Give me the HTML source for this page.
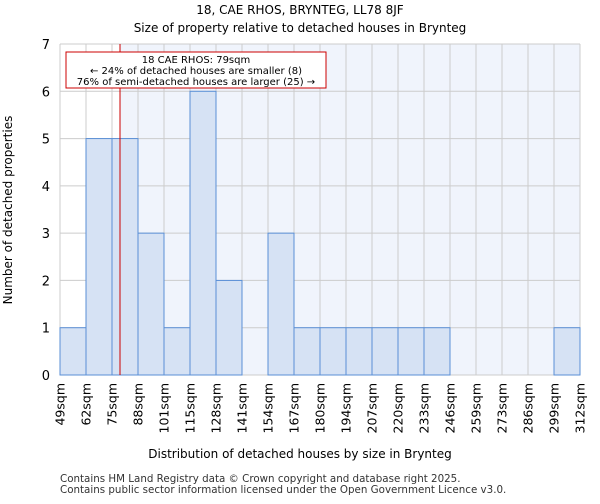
<!DOCTYPE html>
<html><head><meta charset="utf-8"><style>
body{margin:0;background:#fff;font-family:"DejaVu Sans","Liberation Sans",sans-serif}
</style></head><body>
<svg width="600" height="500" xmlns="http://www.w3.org/2000/svg" font-family="DejaVu Sans, Liberation Sans, sans-serif">
<text x="300" y="14" text-anchor="middle" font-size="12">18, CAE RHOS, BRYNTEG, LL78 8JF</text>
<text x="300" y="32" text-anchor="middle" font-size="12">Size of property relative to detached houses in Brynteg</text>
<g id="plot"></g>
<text x="300" y="458" text-anchor="middle" font-size="12">Distribution of detached houses by size in Brynteg</text>
<text transform="translate(12,210) rotate(-90)" text-anchor="middle" font-size="12">Number of detached properties</text>
<text x="60" y="482" font-size="10.3" fill="#333">Contains HM Land Registry data © Crown copyright and database right 2025.</text>
<text x="60" y="493" font-size="10.3" fill="#333">Contains public sector information licensed under the Open Government Licence v3.0.</text>
</svg>
<script>
const categories=["49sqm","62sqm","75sqm","88sqm","101sqm","115sqm","128sqm","141sqm","154sqm","167sqm","180sqm","194sqm","207sqm","220sqm","233sqm","246sqm","259sqm","273sqm","286sqm","299sqm","312sqm"];
const counts=[1,5,5,3,1,6,2,0,3,1,1,1,1,1,1,0,0,0,0,1];
const yTicks=[0,1,2,3,4,5,6,7];
const markerBin=2+4/13;
const NS="http://www.w3.org/2000/svg";
const L=60,R=580,T=44,B=375,yMax=7;
const bw=(R-L)/counts.length;
const xs=i=>L+i*bw, ys=v=>B-v/yMax*(B-T);
const g=document.getElementById('plot');
function mk(t,a,p){const e=document.createElementNS(NS,t);for(const k in a)e.setAttribute(k,a[k]);(p||g).appendChild(e);return e;}
const mx=xs(markerBin);
let bg=mk('rect',{x:L,y:T,width:R-L,height:B-T,fill:'#fff'});

let bg2=mk('rect',{x:mx,y:T,width:R-mx,height:B-T,fill:'#f0f4fc'});

for(let i=0;i<=counts.length;i++){let l=mk('line',{x1:xs(i),x2:xs(i),y1:T,y2:B,stroke:'#ccc','stroke-width':1});
}
yTicks.forEach(v=>{let l=mk('line',{x1:L,x2:R,y1:ys(v),y2:ys(v),stroke:'#ccc','stroke-width':1});

let t=mk('text',{x:L-10,y:ys(v)+5,'text-anchor':'end','font-size':13});t.textContent=v;
});
counts.forEach((c,i)=>{if(!c)return;let r=mk('rect',{x:xs(i),y:ys(c),width:bw,height:B-ys(c),fill:'#d6e2f4',stroke:'#5a8fd6','stroke-width':1});
});
categories.forEach((c,i)=>{let t=mk('text',{transform:`translate(${xs(i)+4.5},${B+8}) rotate(-90)`,'text-anchor':'end','font-size':12.5});t.textContent=c;
});
let ml=mk('line',{x1:mx,x2:mx,y1:T,y2:B,stroke:'#cc0000','stroke-width':1});

let ag=mk('g',{});
mk('rect',{x:66,y:52,width:260,height:36,fill:'#fff',stroke:'#cc0000','stroke-width':1},ag);
[["18 CAE RHOS: 79sqm",63],["← 24% of detached houses are smaller (8)",74],["76% of semi-detached houses are larger (25) →",85]].forEach(([s,y])=>{
let t=mk('text',{x:196,y:y,'text-anchor':'middle','font-size':10},ag);t.textContent=s;});
</script>
</body></html>
